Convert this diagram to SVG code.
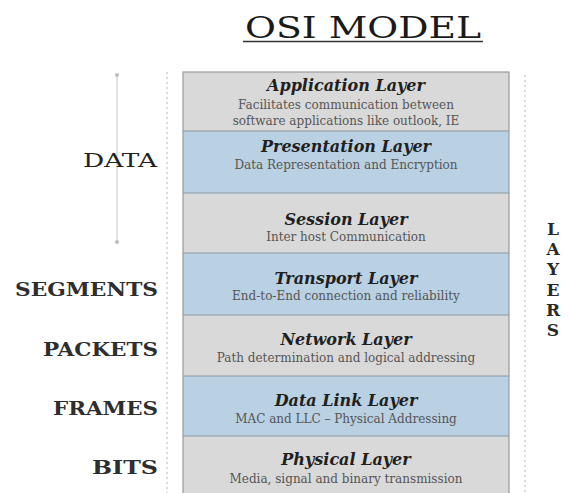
<svg xmlns="http://www.w3.org/2000/svg" width="570" height="493" viewBox="0 0 570 493">
  <style>
    .heading { font-family: "DejaVu Serif", serif; fill: #1a1a1a; }
    .unit { font-family: "DejaVu Serif", serif; font-weight: bold; font-size: 18px; fill: #2e2e2e; }
    .unit-light { font-family: "DejaVu Serif", serif; font-size: 19px; fill: #222; }
    .vert { font-family: "DejaVu Serif", serif; font-weight: bold; font-size: 17px; fill: #2a2a2a; text-anchor: middle; }
    .gray { fill: #d9d9d9; }
    .blue { fill: #b9d1e3; }
    .sep { stroke: #8a9aa6; stroke-width: 1.2; }
    .name { font-family: "DejaVu Serif", serif; font-weight: bold; font-style: italic; font-size: 16px; fill: #1f1f1f; text-anchor: middle; }
    .desc { font-family: "DejaVu Serif", serif; font-size: 12px; fill: #555; text-anchor: middle; }
    .guide { stroke: #b5b5b5; stroke-width: 1; stroke-dasharray: 2 3; fill: none; }
  </style>
  <defs>
    <marker id="dot" markerWidth="6" markerHeight="6" refX="3" refY="3" markerUnits="userSpaceOnUse">
      <circle cx="3" cy="3" r="2" fill="#bdbdbd"/>
    </marker>
  </defs>
  <rect width="570" height="493" fill="#ffffff"/>

  <!-- title -->
  <g id="title">
    <text class="heading" x="245" y="38" font-size="29" textLength="236" lengthAdjust="spacingAndGlyphs">OSI MODEL</text>
    <line x1="243" y1="41.5" x2="483" y2="41.5" stroke="#333" stroke-width="1.3"/>
  </g>

  <!-- guides and span indicator -->
  <g id="connectors">
    <line class="guide" x1="167" y1="72" x2="167" y2="493"/>
    <line class="guide" x1="525" y1="75" x2="525" y2="493"/>
    <line x1="117" y1="75" x2="117" y2="242" stroke="#c8c8c8" stroke-width="1" marker-start="url(#dot)" marker-end="url(#dot)"/>
  </g>

  <!-- data unit labels -->
  <g id="units">
    <text class="unit-light" x="83" y="167" textLength="74" lengthAdjust="spacingAndGlyphs">DATA</text>
    <text class="unit" x="15" y="296" textLength="143" lengthAdjust="spacingAndGlyphs">SEGMENTS</text>
    <text class="unit" x="43" y="356" textLength="115" lengthAdjust="spacingAndGlyphs">PACKETS</text>
    <text class="unit" x="53" y="415" textLength="105" lengthAdjust="spacingAndGlyphs">FRAMES</text>
    <text class="unit" x="92" y="474" textLength="66" lengthAdjust="spacingAndGlyphs">BITS</text>
  </g>

  <!-- vertical LAYERS caption -->
  <g id="layers-caption">
    <text class="vert" x="553" y="235">L</text>
    <text class="vert" x="553" y="255">A</text>
    <text class="vert" x="553" y="275">Y</text>
    <text class="vert" x="553" y="296">E</text>
    <text class="vert" x="553" y="316">R</text>
    <text class="vert" x="553" y="336">S</text>
  </g>

  <!-- layer stack -->
  <g id="application">
    <rect class="gray" x="183" y="72" width="326" height="59"/>
    <text class="name" x="346" y="91">Application Layer</text>
    <text class="desc" x="346" y="109">Facilitates communication between</text>
    <text class="desc" x="346" y="125">software applications like outlook, IE</text>
  </g>
  <g id="presentation">
    <rect class="blue" x="183" y="131" width="326" height="62"/>
    <text class="name" x="346" y="152">Presentation Layer</text>
    <text class="desc" x="346" y="169">Data Representation and Encryption</text>
  </g>
  <g id="session">
    <rect class="gray" x="183" y="193" width="326" height="60"/>
    <text class="name" x="346" y="225">Session Layer</text>
    <text class="desc" x="346" y="241">Inter host Communication</text>
  </g>
  <g id="transport">
    <rect class="blue" x="183" y="253" width="326" height="62"/>
    <text class="name" x="346" y="284">Transport Layer</text>
    <text class="desc" x="346" y="300">End-to-End connection and reliability</text>
  </g>
  <g id="network">
    <rect class="gray" x="183" y="315" width="326" height="61"/>
    <text class="name" x="346" y="345">Network Layer</text>
    <text class="desc" x="346" y="362">Path determination and logical addressing</text>
  </g>
  <g id="datalink">
    <rect class="blue" x="183" y="376" width="326" height="60"/>
    <text class="name" x="346" y="406">Data Link Layer</text>
    <text class="desc" x="346" y="423">MAC and LLC – Physical Addressing</text>
  </g>
  <g id="physical">
    <rect class="gray" x="183" y="436" width="326" height="57"/>
    <text class="name" x="346" y="465">Physical Layer</text>
    <text class="desc" x="346" y="483">Media, signal and binary transmission</text>
  </g>

  <!-- row separators and outline -->
  <g id="stack-lines">
    <line class="sep" x1="183" y1="131" x2="509" y2="131"/>
    <line class="sep" x1="183" y1="193" x2="509" y2="193"/>
    <line class="sep" x1="183" y1="253" x2="509" y2="253"/>
    <line class="sep" x1="183" y1="315" x2="509" y2="315"/>
    <line class="sep" x1="183" y1="376" x2="509" y2="376"/>
    <line class="sep" x1="183" y1="436" x2="509" y2="436"/>
    <rect x="183" y="72" width="326" height="424" fill="none" stroke="#9a9a9a" stroke-width="1.2"/>
  </g>
</svg>
